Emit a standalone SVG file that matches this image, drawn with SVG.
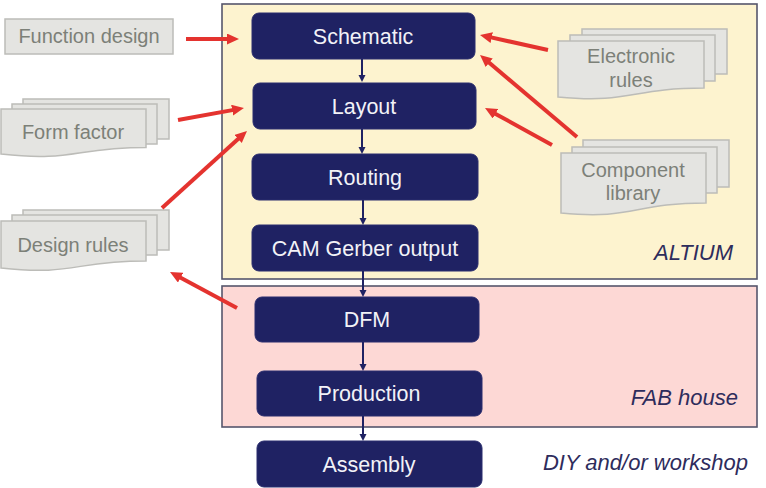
<svg xmlns="http://www.w3.org/2000/svg" width="766" height="488" viewBox="0 0 766 488">
<defs>
<style>
.bg{stroke:#56566c;stroke-width:1.6}
.node rect{fill:#1f2263;stroke:#2a2d6e;stroke-width:1}
.node text{fill:#f2f2f7;font-family:"Liberation Sans",Arial,sans-serif;font-size:21.5px;text-anchor:middle}
.doc rect,.doc path{fill:#e4e4e1;stroke:#bcbcb8;stroke-width:1.5}
.doc text{fill:#7c8078;font-family:"Liberation Sans",Arial,sans-serif;font-size:20px;text-anchor:middle}
.lbl{fill:#2e2c5c;font-family:"Liberation Sans",Arial,sans-serif;font-size:22px;font-style:italic;text-anchor:end}
.red{stroke:#e4332f;stroke-width:4;fill:none;marker-end:url(#rh)}
.nav{stroke:#1f2263;stroke-width:2;fill:none;marker-end:url(#nh)}
</style>
<marker id="rh" markerUnits="userSpaceOnUse" markerWidth="13" markerHeight="12" refX="3" refY="5.5" orient="auto"><path d="M0,0 L12,5.5 L0,11 z" fill="#e4332f"/></marker>
<marker id="nh" markerUnits="userSpaceOnUse" markerWidth="8" markerHeight="8" refX="2" refY="3.5" orient="auto"><path d="M0,0 L7,3.5 L0,7 z" fill="#1f2263"/></marker>
</defs>
<rect width="766" height="488" fill="#ffffff"/>
<g id="altium-zone">
<rect class="bg" x="222" y="4" width="535" height="275" fill="#fdf3cf"/>
<text class="lbl" x="733" y="260">ALTIUM</text>
</g>
<g id="fab-zone">
<rect class="bg" x="222" y="286" width="535" height="141" fill="#fdd8d5"/>
<text class="lbl" x="738" y="405">FAB house</text>
</g>
<text class="lbl" x="748" y="470">DIY and/or workshop</text>

<g id="function-design" class="doc">
<rect x="5" y="19" width="168" height="35"/>
<text x="89" y="43">Function design</text>
</g>
<g id="form-factor" class="doc">
<rect x="23" y="99" width="146" height="40"/>
<rect x="12" y="104" width="145" height="40"/>
<path d="M1,109 H146 V147.5 C73.5,147.5 73.5,162 1,154 Z"/>
<text x="73" y="139">Form factor</text>
</g>
<g id="design-rules" class="doc">
<rect x="23" y="210" width="146" height="40"/>
<rect x="12" y="215" width="145" height="40"/>
<path d="M1,221 H146 V261 C73.5,261 73.5,276 1,268 Z"/>
<text x="73" y="252">Design rules</text>
</g>
<g id="electronic-rules" class="doc">
<rect x="582" y="29" width="145" height="45"/>
<rect x="570" y="35" width="145" height="46"/>
<path d="M558,41 H704 V88 C631,88 631,104 558,97 Z"/>
<text x="631" y="63">Electronic</text>
<text x="631" y="87">rules</text>
</g>
<g id="component-library" class="doc">
<rect x="583" y="140" width="146" height="47"/>
<rect x="572" y="147" width="145" height="46"/>
<path d="M561,153 H706 V203 C633.5,203 633.5,220 561,213 Z"/>
<text x="633" y="177">Component</text>
<text x="633" y="200">library</text>
</g>

<g id="schematic" class="node"><rect x="252" y="13" width="223" height="46" rx="7"/><text x="363" y="44">Schematic</text></g>
<g id="layout" class="node"><rect x="253" y="83" width="223" height="46" rx="7"/><text x="364" y="114">Layout</text></g>
<g id="routing" class="node"><rect x="252" y="154" width="226" height="46" rx="7"/><text x="365" y="185">Routing</text></g>
<g id="cam" class="node"><rect x="252" y="225" width="226" height="46" rx="7"/><text x="365" y="256">CAM Gerber output</text></g>
<g id="dfm" class="node"><rect x="255" y="297" width="224" height="45" rx="7"/><text x="367" y="327">DFM</text></g>
<g id="production" class="node"><rect x="257" y="371" width="225" height="45" rx="7"/><text x="369" y="401">Production</text></g>
<g id="assembly" class="node"><rect x="257" y="441" width="225" height="46" rx="7"/><text x="369" y="472">Assembly</text></g>

<g id="connectors">
<line class="nav" x1="362" y1="59" x2="362" y2="77"/>
<line class="nav" x1="362" y1="129" x2="362" y2="149"/>
<line class="nav" x1="363" y1="200" x2="363" y2="220"/>
<line class="nav" x1="363" y1="271" x2="363" y2="292"/>
<line class="nav" x1="363" y1="342" x2="363" y2="366"/>
<line class="nav" x1="363" y1="416" x2="363" y2="436"/>
<line class="red" x1="186" y1="39" x2="230" y2="39"/>
<line class="red" x1="178" y1="120" x2="235.1" y2="109.6"/>
<line class="red" x1="162" y1="208" x2="240.3" y2="137"/>
<line class="red" x1="237" y1="308" x2="177.9" y2="276.3"/>
<line class="red" x1="548" y1="50" x2="488.8" y2="36.9"/>
<line class="red" x1="577" y1="137" x2="486.9" y2="60.8"/>
<line class="red" x1="552" y1="145" x2="492.9" y2="112.4"/>
</g>
</svg>
